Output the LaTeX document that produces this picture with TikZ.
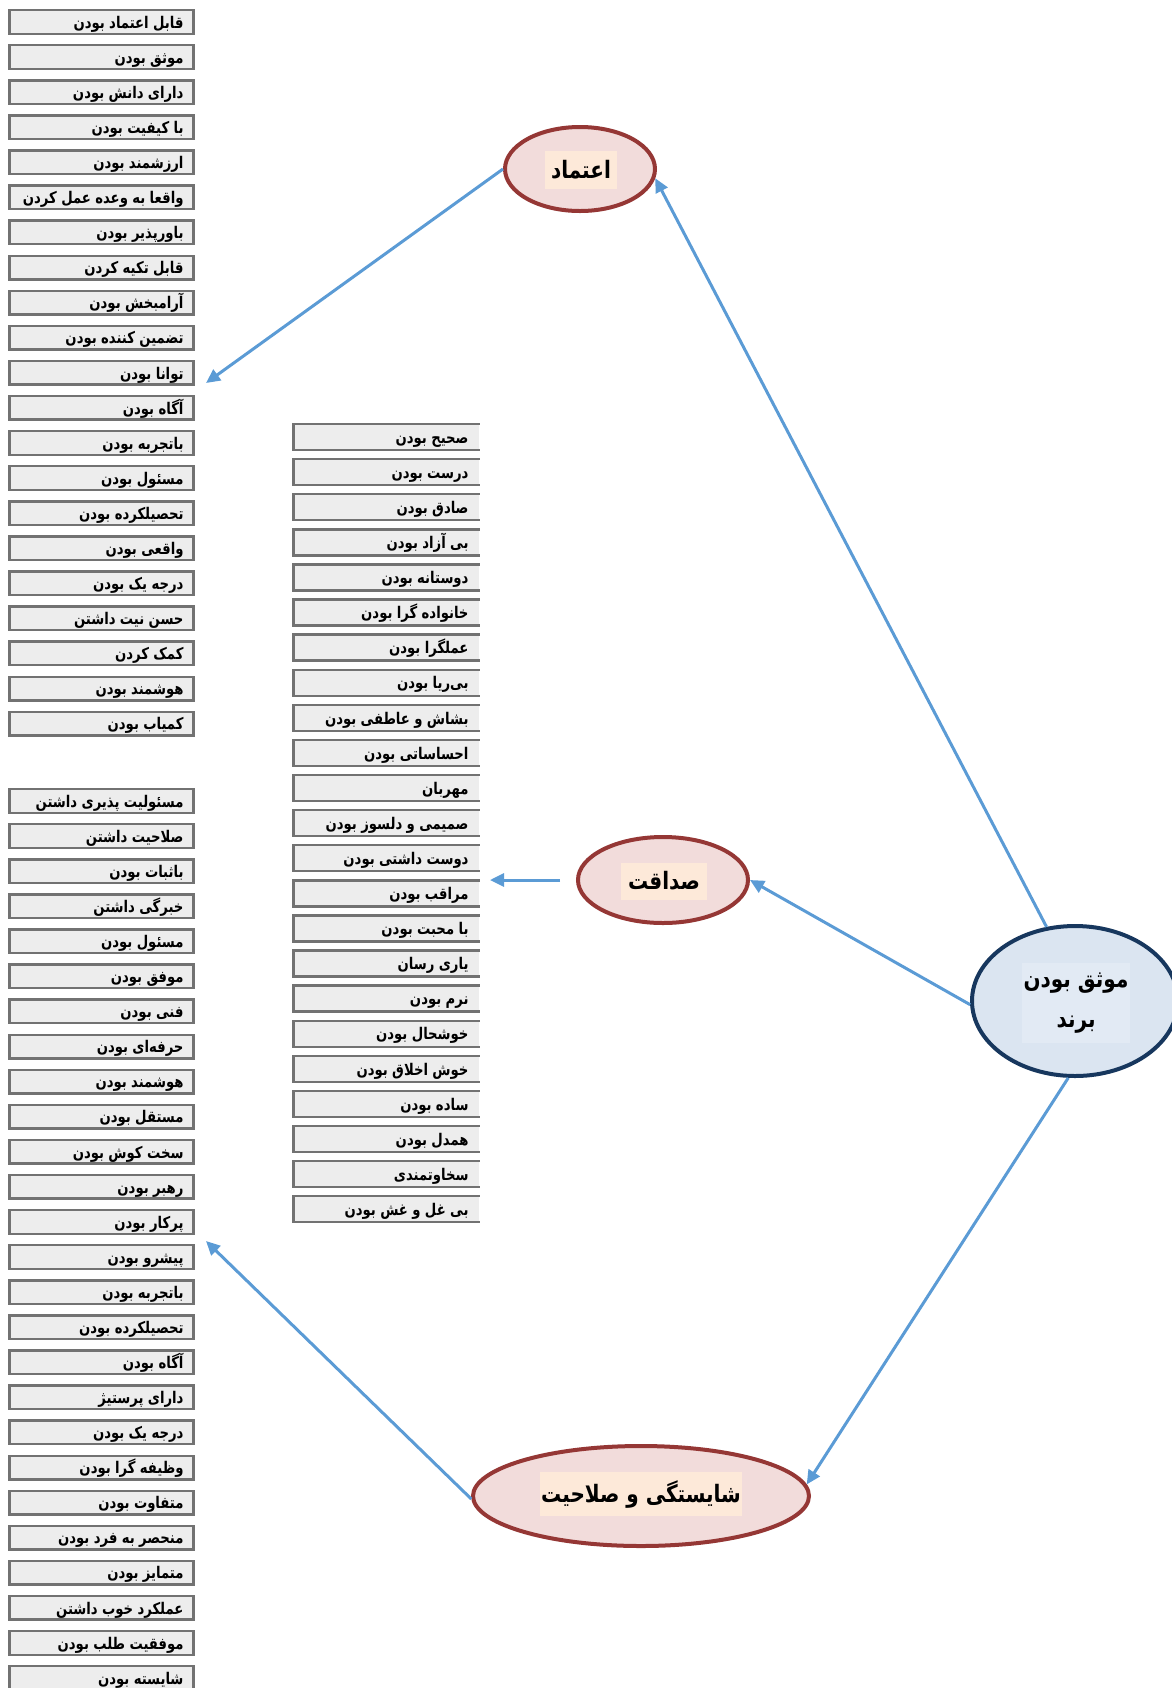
\documentclass[tikz,border=0pt]{standalone}
\usepackage{fontspec}
\usetikzlibrary{shapes.geometric,arrows.meta}
\TeXXeTstate=1
\newfontfamily\arabicfont[Script=Arabic]{DejaVu Sans}

\definecolor{boxfill}{HTML}{EDEDED}
\definecolor{boxline}{HTML}{727272}
\definecolor{wine}{HTML}{953735}
\definecolor{rosefill}{HTML}{F2DCDB}
\definecolor{peach}{HTML}{FDE9D9}
\definecolor{navy}{HTML}{17375E}
\definecolor{skyfill}{HTML}{DBE5F1}
\definecolor{skyinner}{HTML}{E2EAF4}
\definecolor{linkblue}{HTML}{5B9BD5}

% right-to-left bold label, stretched a little in height
\newcommand{\fa}[1]{\arabicfont\bfseries\scalebox{1}[1.2]{\beginR #1\endR}}
\newcommand{\itemtext}[1]{\raisebox{-1.4pt}{\scalebox{1}[1.22]{\beginR #1\endR}}}

\tikzset{
  itembox/.style={rectangle, fill=boxfill, draw=boxline, line width=1.2pt,
    minimum width=92pt, minimum height=11.8pt, inner xsep=5pt, inner ysep=0pt,
    text width=82pt, align=right, text height=5pt, text depth=1.6pt,
    font=\arabicfont\bfseries\fontsize{6.6pt}{8pt}\selectfont},
  openbox/.style={itembox, draw=none},
  factor/.style={ellipse, draw=wine, fill=rosefill, line width=2pt, inner sep=0pt},
  core/.style={ellipse, draw=navy, fill=skyfill, line width=2pt, inner sep=0pt},
  tag/.style={rectangle, inner sep=0pt, font=\arabicfont\bfseries\fontsize{10pt}{12pt}\selectfont},
  link/.style={draw=linkblue, line width=1.5pt, -{Triangle[length=7pt,width=6.5pt]}}
}

\begin{document}
\begin{tikzpicture}[x=0.5pt, y=-0.5pt]
\useasboundingbox (0,0) rectangle (1172,1688);
\clip (0,0) rectangle (1172,1688);

% first column: items of trust
\foreach \t [count=\i] in {قابل اعتماد بودن, موثق بودن, دارای دانش بودن, با کیفیت بودن,
  ارزشمند بودن, واقعا به وعده عمل کردن, باورپذیر بودن, قابل تکیه کردن, آرامبخش بودن,
  تضمین کننده بودن, توانا بودن, آگاه بودن, باتجربه بودن, مسئول بودن, تحصیلکرده بودن,
  واقعی بودن, درجه یک بودن, حسن نیت داشتن, کمک کردن, هوشمند بودن, کمیاب بودن}
  \node[itembox] (ta\i) at (101.5, {22+35.08*(\i-1)}) {\itemtext{\t}};

% first column, lower part: items of competence
\foreach \t [count=\i] in {مسئولیت پذیری داشتن, صلاحیت داشتن, باثبات بودن, خبرگی داشتن,
  مسئول بودن, موفق بودن, فنی بودن, حرفه‌ای بودن, هوشمند بودن, مستقل بودن, سخت کوش بودن,
  رهبر بودن, پرکار بودن, پیشرو بودن, باتجربه بودن, تحصیلکرده بودن, آگاه بودن,
  دارای پرستیژ, درجه یک بودن, وظیفه گرا بودن, متفاوت بودن, منحصر به فرد بودن,
  متمایز بودن, عملکرد خوب داشتن, موفقیت طلب بودن, شایسته بودن}
  \node[itembox] (co\i) at (101.5, {801+35.08*(\i-1)}) {\itemtext{\t}};

% middle column: items of honesty (open on the right)
\foreach \t [count=\i] in {صحیح بودن, درست بودن, صادق بودن, بی آزاد بودن, دوستانه بودن,
  خانواده گرا بودن, عملگرا بودن, بی‌ریا بودن, بشاش و عاطفی بودن, احساساتی بودن, مهربان,
  صمیمی و دلسوز بودن, دوست داشتی بودن, مراقب بودن, با محبت بودن, یاری رسان, نرم بودن,
  خوشحال بودن, خوش اخلاق بودن, ساده بودن, همدل بودن, سخاوتمندی, بی غل و غش بودن}
{
  \node[openbox] (ho\i) at (386.5, {437+35.1*(\i-1)}) {\itemtext{\t}};
  \draw[boxline, line width=1.2pt] (ho\i.north east) -- (ho\i.north west)
    -- (ho\i.south west) -- (ho\i.south east);
}

% factor ellipses
\node[factor, minimum width=75pt, minimum height=42pt] (trust) at (580,169) {};
\node[tag, fill=peach, minimum width=36pt, minimum height=19pt] (trustlbl) at (581,170) {\fa{اعتماد}};

\node[factor, minimum width=85pt, minimum height=43pt] (honesty) at (663,880) {};
\node[tag, fill=peach, minimum width=43pt, minimum height=18.5pt] (honestylbl) at (664,881) {\fa{صداقت}};

\node[factor, minimum width=168pt, minimum height=50pt] (comp) at (641,1496) {};
\node[tag, fill=peach, minimum width=101pt, minimum height=22pt] (complbl) at (641,1494) {\fa{شایستگی و صلاحیت}};

\node[core, minimum width=103pt, minimum height=75pt] (brand) at (1075,1001) {};
\node[tag, fill=skyinner, minimum width=54pt, minimum height=40pt, align=center,
  font=\arabicfont\bfseries\fontsize{10pt}{20pt}\selectfont] (brandlbl) at (1076,1003)
  {\scalebox{1}[1.2]{\beginR موثق بودن\endR}\\\scalebox{1}[1.2]{\beginR برند\endR}};

% free ends of the connectors at the item columns
\coordinate (tipA) at (206,383);
\coordinate (tipB) at (490,880);
\coordinate (tipC) at (206,1241);

% connectors
\draw[link] (brand.111) -- (trust.-7);
\draw[link] (trust.west) -- (tipA);
\draw[link] (brand.182) -- (honesty.east);
\draw[link] ([xshift=-8pt]honesty.west) -- (tipB);
\draw[link] (brand.-95) -- (comp.4);
\draw[link] (comp.181) -- (tipC);
\end{tikzpicture}
\end{document}
